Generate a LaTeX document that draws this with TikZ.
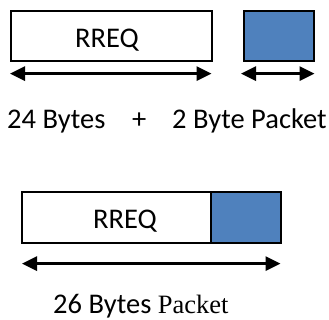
\documentclass[tikz,border=0pt]{standalone}
\usepackage{fontspec}
\setmainfont{Carlito}
\newfontfamily\pktfont{Liberation Serif}
\usetikzlibrary{arrows.meta}

\definecolor{pktblue}{HTML}{4F81BD}

\tikzset{
  field/.style={draw=black, line width=1.6pt, inner sep=0pt, anchor=north west},
  extra/.style={field, fill=pktblue},
  span/.style={line width=2.8pt, {Triangle[length=15pt,width=14pt]}-{Triangle[length=15pt,width=14pt]}},
  lbl/.style={font=\fontsize{28.5}{32}\selectfont, inner sep=0pt, anchor=base west}
}

\begin{document}
\begin{tikzpicture}[x=1pt,y=-1pt]
  % canvas
  \fill[white] (0,0) rectangle (329,320);
  \useasboundingbox (0,0) rectangle (329,320);

  % separate fields
  \node[field, minimum width=201pt, minimum height=50pt] (rreq) at (10,10) {};
  \node[lbl, anchor=base] (rreqtxt) at (107,48) {RREQ};
  \node[extra, minimum width=70pt, minimum height=50pt] (ext) at (243,10) {};

  \draw[span] ([yshift=-12pt]rreq.south west) -- ([yshift=-12pt,xshift=-1pt]rreq.south east);
  \draw[span] ([yshift=-12pt,xshift=-2pt]ext.south west) -- ([yshift=-12pt]ext.south east);

  \node[lbl] (bytesa) at (7,129) {24 Bytes};
  \node[lbl] (plus) at (132,129) {+};
  \node[lbl] (bytesb) at (172,129) {2 Byte Packet};

  % joined packet
  \node[field, minimum width=189pt, minimum height=51pt] (rreqj) at (21,191) {};
  \node[extra, minimum width=70pt, minimum height=51pt] (extj) at (210,191) {};
  \node[lbl, anchor=base] (rreqjtxt) at (125,229) {RREQ};

  \draw[span] ([yshift=-20pt,xshift=1pt]rreqj.south west) -- ([yshift=-20pt,xshift=-1pt]extj.south east);

  \node[lbl] (total) at (53,313) {26 Bytes {\pktfont\fontsize{26.5}{30}\selectfont Packet}};
\end{tikzpicture}
\end{document}
